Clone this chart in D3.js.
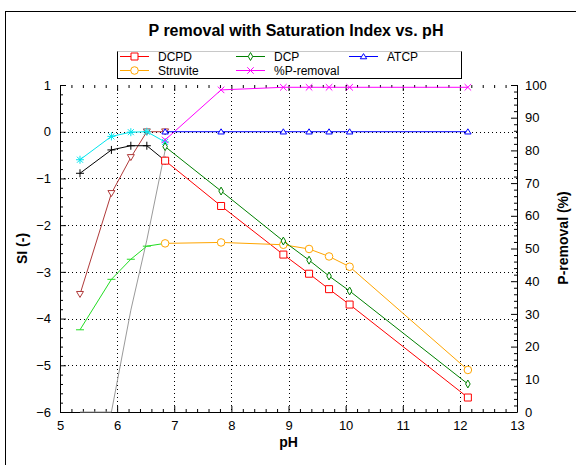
<!DOCTYPE html>
<html>
<head>
<meta charset="utf-8">
<script src="https://cdn.jsdelivr.net/npm/d3@7"></script>
<style>
  body { margin: 0; background: #fff; }
  text { font-family: Arial, "Liberation Sans", sans-serif; fill: #000; }
</style>
</head>
<body>
<script>
// values
const phLow = [5.35, 5.9, 6.24, 6.52, 6.84];
const phHigh = [6.84, 7.82, 8.91, 9.36, 9.71, 10.07, 12.14];

const dcpd = [-0.62, -1.59, -2.63, -3.04, -3.37, -3.70, -5.69];
const dcp = [-0.32, -1.27, -2.34, -2.75, -3.09, -3.41, -5.40];
const atcp = [0, 0, 0, 0, 0, 0, 0];
const struvite = [-2.39, -2.37, -2.42, -2.51, -2.67, -2.89, -5.10];
const pRemoval = [83.2, 98.5, 99.3, 99.3, 99.3, 99.3, 99.3];

// unlabelled low-pH series
const brownLow = [-3.48, -1.32, -0.55, 0, 0];
const limeLow = [-4.24, -3.16, -2.73, -2.45, -2.39];
const blackLow = [-0.89, -0.39, -0.30, -0.30, -0.62];
const cyanLow = [-0.60, -0.10, -0.01, 0, -0.22];
const grayLow = [-6, -6, -3.82, -2.32, -0.40];

const xTicks = [5, 6, 7, 8, 9, 10, 11, 12, 13];
const yTicks = [-6, -5, -4, -3, -2, -1, 0, 1];
const pTicks = [0, 10, 20, 30, 40, 50, 60, 70, 80, 90, 100];

const W = 576, H = 465;
const pLeft = 60, pRight = 517, pTop = 85, pBottom = 412;

const x = d3.scaleLinear().domain([5, 13]).range([pLeft, pRight]);
const y = d3.scaleLinear().domain([-6, 1]).range([pBottom, pTop]);
const yP = d3.scaleLinear().domain([0, 100]).range([pBottom, pTop]);

// marker shapes
const plus = { draw(c, s) { const r = Math.sqrt(s) / 2; c.moveTo(-r, 0); c.lineTo(r, 0); c.moveTo(0, -r); c.lineTo(0, r); } };
const times = { draw(c, s) { const r = Math.sqrt(s) / 2; c.moveTo(-r, -r); c.lineTo(r, r); c.moveTo(-r, r); c.lineTo(r, -r); } };
const star = { draw(c, s) {
  const r = Math.sqrt(s) / 2;
  c.moveTo(-r, 0); c.lineTo(r, 0); c.moveTo(0, -r); c.lineTo(0, r);
  const d = r * 0.75; c.moveTo(-d, -d); c.lineTo(d, d); c.moveTo(-d, d); c.lineTo(d, -d);
} };
const dash = { draw(c, s) { const r = Math.sqrt(s) / 2; c.moveTo(-r, 0); c.lineTo(r, 0); } };
const triDown = { draw(c, s) { const r = Math.sqrt(s) / 2; c.moveTo(-r, -r * 0.8); c.lineTo(r, -r * 0.8); c.lineTo(0, r * 0.9); c.closePath(); } };
const triUp = { draw(c, s) { const r = Math.sqrt(s) / 2; c.moveTo(-r, r * 0.7); c.lineTo(r, r * 0.7); c.lineTo(0, -r * 0.9); c.closePath(); } };

const series = [
  { xs: phLow, ys: grayLow, sc: y, color: '#9a9a9a', sym: null },
  { xs: phLow, ys: limeLow, sc: y, color: '#22dd22', sym: dash, size: 64, stroke: true },
  { xs: phLow, ys: brownLow, sc: y, color: '#b03a3a', sym: triDown, size: 49 },
  { xs: phLow, ys: blackLow, sc: y, color: '#000000', sym: plus, size: 64, stroke: true },
  { xs: phLow, ys: cyanLow, sc: y, color: '#00e5ee', sym: star, size: 64, stroke: true },
  { name: 'DCPD', xs: phHigh, ys: dcpd, sc: y, color: '#ff0000', sym: d3.symbolSquare, size: 49, col: 0, row: 0 },
  { name: 'Struvite', xs: phHigh, ys: struvite, sc: y, color: '#ffa500', sym: d3.symbolCircle, size: 45, col: 0, row: 1 },
  { name: 'DCP', xs: phHigh, ys: dcp, sc: y, color: '#008000', sym: d3.symbolDiamond, size: 18, col: 1, row: 0 },
  { name: '%P-removal', xs: phHigh, ys: pRemoval, sc: yP, color: '#ff00ff', sym: times, size: 42, stroke: true, col: 1, row: 1 },
  { name: 'ATCP', xs: phHigh, ys: atcp, sc: y, color: '#0000ff', sym: triUp, size: 42, col: 2, row: 0 }
];

const svg = d3.select('body').append('svg')
  .attr('width', W).attr('height', H);

// outer frame (its right and bottom edges fall off the picture)
svg.append('rect')
  .attr('x', 5.5).attr('y', 11.5).attr('width', 700).attr('height', 600)
  .attr('fill', 'none').attr('stroke', '#000');

svg.append('text')
  .attr('x', 296).attr('y', 36)
  .attr('text-anchor', 'middle')
  .style('font-size', '16px').style('font-weight', 'bold')
  .text('P removal with Saturation Index vs. pH');

// dotted grid
const grid = svg.append('g').attr('stroke', '#000').attr('stroke-dasharray', '1,3');
grid.selectAll('.gx').data(xTicks.slice(1, -1)).enter().append('line')
  .attr('x1', d => Math.round(x(d)) + 0.5).attr('x2', d => Math.round(x(d)) + 0.5)
  .attr('y1', pTop).attr('y2', pBottom);
grid.selectAll('.gy').data(yTicks.slice(1, -1)).enter().append('line')
  .attr('y1', d => Math.round(y(d)) + 0.5).attr('y2', d => Math.round(y(d)) + 0.5)
  .attr('x1', pLeft).attr('x2', pRight);

// axes, ticks pointing inwards
const minor = (a, b, step) => d3.range(a, b + step / 2, step).filter(v => Math.abs(v - Math.round(v / (step * 5)) * step * 5) > 1e-6);

function styleAxis(g) {
  g.select('.domain').remove();
  g.selectAll('text').style('font-size', '13px').style('font-family', 'Arial, "Liberation Sans", sans-serif');
}

svg.append('g').attr('transform', `translate(0,${pBottom})`)
  .call(d3.axisBottom(x).tickValues(xTicks).tickFormat(d3.format('d')).tickSizeInner(-6).tickSizeOuter(0).tickPadding(9))
  .call(styleAxis);
svg.append('g').attr('transform', `translate(0,${pBottom})`)
  .call(d3.axisBottom(x).tickValues(minor(5, 13, 0.2)).tickFormat('').tickSizeInner(-3).tickSizeOuter(0))
  .call(styleAxis);
svg.append('g').attr('transform', `translate(0,${pTop})`)
  .call(d3.axisTop(x).tickValues(xTicks).tickFormat('').tickSizeInner(-6).tickSizeOuter(0))
  .call(styleAxis);
svg.append('g').attr('transform', `translate(0,${pTop})`)
  .call(d3.axisTop(x).tickValues(minor(5, 13, 0.2)).tickFormat('').tickSizeInner(-3).tickSizeOuter(0))
  .call(styleAxis);

svg.append('g').attr('transform', `translate(${pLeft},0)`)
  .call(d3.axisLeft(y).tickValues(yTicks).tickFormat(d3.format('d')).tickSizeInner(-6).tickSizeOuter(0).tickPadding(9))
  .call(styleAxis);
svg.append('g').attr('transform', `translate(${pLeft},0)`)
  .call(d3.axisLeft(y).tickValues(minor(-6, 1, 0.2)).tickFormat('').tickSizeInner(-3).tickSizeOuter(0))
  .call(styleAxis);

svg.append('g').attr('transform', `translate(${pRight},0)`)
  .call(d3.axisRight(yP).tickValues(pTicks).tickFormat(d3.format('d')).tickSizeInner(-6).tickSizeOuter(0).tickPadding(8))
  .call(styleAxis);
svg.append('g').attr('transform', `translate(${pRight},0)`)
  .call(d3.axisRight(yP).tickValues(minor(0, 100, 2)).tickFormat('').tickSizeInner(-3).tickSizeOuter(0))
  .call(styleAxis);

// axis lines: left, bottom, right (no top line)
svg.append('path')
  .attr('d', `M${pLeft + 0.5},${pTop}V${pBottom + 0.5}H${pRight + 0.5}V${pTop}`)
  .attr('fill', 'none').attr('stroke', '#000');

svg.append('text')
  .attr('x', (pLeft + pRight) / 2).attr('y', 447)
  .attr('text-anchor', 'middle')
  .style('font-size', '14px').style('font-weight', 'bold')
  .text('pH');
svg.append('text')
  .attr('transform', `translate(27,${(pTop + pBottom) / 2}) rotate(-90)`)
  .attr('text-anchor', 'middle')
  .style('font-size', '14px').style('font-weight', 'bold')
  .text('SI (-)');
svg.append('text')
  .attr('transform', `translate(568,238) rotate(-90)`)
  .attr('text-anchor', 'middle')
  .style('font-size', '14px').style('font-weight', 'bold')
  .text('P-removal (%)');

// series lines and markers
const symbol = d3.symbol();
series.forEach(s => {
  const pts = s.xs.map((v, i) => [v, s.ys[i]]);
  const line = d3.line().x(d => x(d[0])).y(d => s.sc(d[1]));
  svg.append('path').datum(pts)
    .attr('d', line)
    .attr('fill', 'none').attr('stroke', s.color).attr('stroke-width', 1);
  if (s.sym) {
    svg.selectAll(null).data(pts).enter().append('path')
      .attr('transform', d => `translate(${x(d[0])},${s.sc(d[1])})`)
      .attr('d', symbol.type(s.sym).size(s.size)())
      .attr('fill', s.stroke ? 'none' : '#fff')
      .attr('stroke', s.color).attr('stroke-width', 1);
  }
});

// legend
const lg = svg.append('g');
lg.append('rect')
  .attr('x', 117.5).attr('y', 51.5).attr('width', 344).attr('height', 27)
  .attr('fill', '#fff').attr('stroke', '#000');
lg.append('line')
  .attr('x1', 117.5).attr('x2', 461.5).attr('y1', 51.5).attr('y2', 51.5)
  .attr('stroke', '#c8c8c8');
const colX = [120, 236, 349];
const rowY = [56, 70];
series.filter(s => s.name).forEach(s => {
  const lx = colX[s.col], ly = rowY[s.row];
  lg.append('line')
    .attr('x1', lx).attr('x2', lx + 29).attr('y1', ly + 0.5).attr('y2', ly + 0.5)
    .attr('stroke', s.color);
  lg.append('path')
    .attr('transform', `translate(${lx + 14.5},${ly + 0.5})`)
    .attr('d', symbol.type(s.sym).size(s.size)())
    .attr('fill', s.stroke ? 'none' : '#fff')
    .attr('stroke', s.color);
  lg.append('text')
    .attr('x', lx + 38).attr('y', ly + 4.5)
    .style('font-size', '12px')
    .text(s.name);
});
</script>
</body>
</html>
